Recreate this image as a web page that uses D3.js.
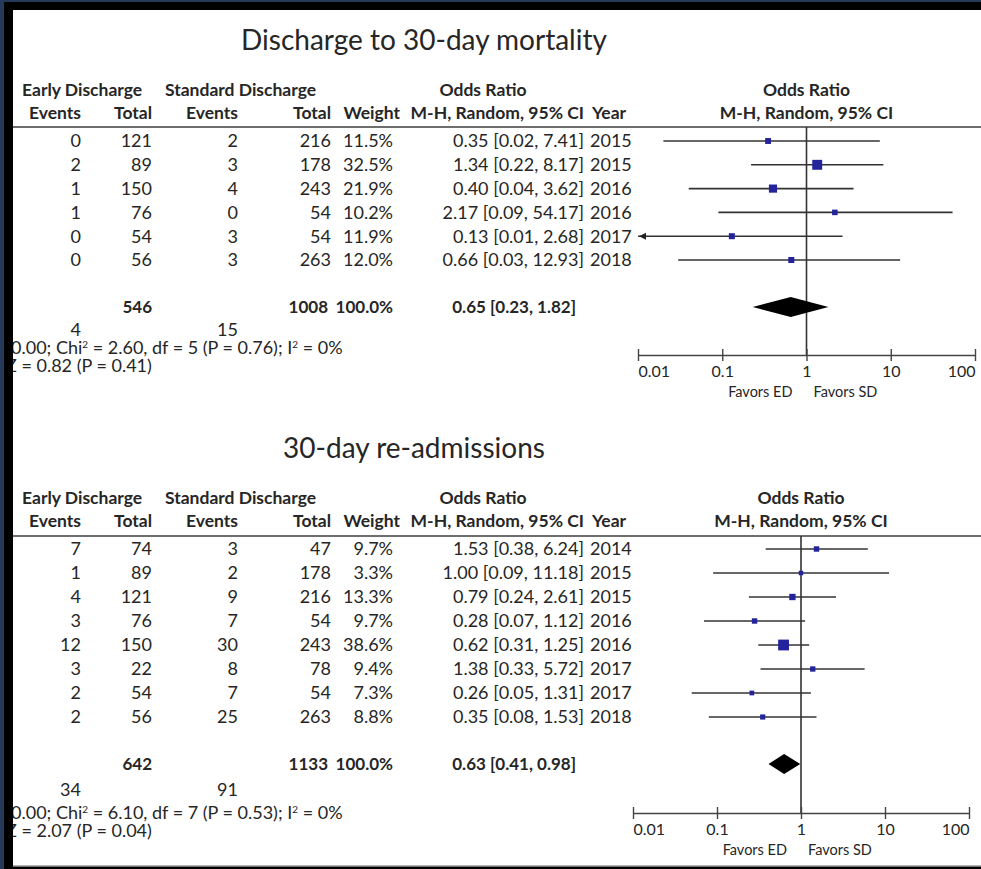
<!DOCTYPE html>
<html>
<head>
<meta charset="utf-8">
<script src="https://cdn.jsdelivr.net/npm/d3@7"></script>
<style>
  body { margin: 0; background: #243a58; }
  svg { display: block; }
  text { font-family: Lato, "Open Sans", sans-serif; fill: #262626; }
  .hdr { font-weight: bold; }
  .tot { font-weight: bold; }
</style>
</head>
<body>
<svg width="981" height="869"></svg>
<script>
// ---- mortality data ----
var mortTitle = "Discharge to 30-day mortality";
var mortEdEvents = [0, 2, 1, 1, 0, 0];
var mortEdTotal = [121, 89, 150, 76, 54, 56];
var mortSdEvents = [2, 3, 4, 0, 3, 3];
var mortSdTotal = [216, 178, 243, 54, 54, 263];
var mortWeight = [11.5, 32.5, 21.9, 10.2, 11.9, 12.0];
var mortOR = [0.35, 1.34, 0.40, 2.17, 0.13, 0.66];
var mortLo = [0.02, 0.22, 0.04, 0.09, 0.01, 0.03];
var mortHi = [7.41, 8.17, 3.62, 54.17, 2.68, 12.93];
var mortYear = [2015, 2015, 2016, 2016, 2017, 2018];
var mortPooled = [0.65, 0.23, 1.82];
var mortTotals = [546, 1008];
var mortEventTotals = [4, 15];
var mortHet = ["0.00", "2.60", "5", "0.76", "0"];
var mortZ = ["0.82", "0.41"];

// ---- readmission data ----
var readTitle = "30-day re-admissions";
var readEdEvents = [7, 1, 4, 3, 12, 3, 2, 2];
var readEdTotal = [74, 89, 121, 76, 150, 22, 54, 56];
var readSdEvents = [3, 2, 9, 7, 30, 8, 7, 25];
var readSdTotal = [47, 178, 216, 54, 243, 78, 54, 263];
var readWeight = [9.7, 3.3, 13.3, 9.7, 38.6, 9.4, 7.3, 8.8];
var readOR = [1.53, 1.00, 0.79, 0.28, 0.62, 1.38, 0.26, 0.35];
var readLo = [0.38, 0.09, 0.24, 0.07, 0.31, 0.33, 0.05, 0.08];
var readHi = [6.24, 11.18, 2.61, 1.12, 1.25, 5.72, 1.31, 1.53];
var readYear = [2014, 2015, 2015, 2016, 2016, 2017, 2017, 2018];
var readPooled = [0.63, 0.41, 0.98];
var readTotals = [642, 1133];
var readEventTotals = [34, 91];
var readHet = ["0.00", "6.10", "7", "0.53", "0"];
var readZ = ["2.07", "0.04"];

// axis ticks
var orTicks = [0.01, 0.1, 1, 10, 100];
var orTickLabels = ["0.01", "0.1", "1", "10", "100"];

var svg = d3.select("svg");
svg.append("rect").attr("width", 981).attr("height", 869).attr("fill", "#fff");

// column right edges (year is left edge)
var col = { e1: 81, t1: 152, e2: 238, t2: 331, w: 393, or: 584, yr: 590 };
var fs = "18px";   // table text
var hs = "17.5px"; // header text

var drawPanel = function(p)
{
  var g = svg.append("g");
  var n = p.or.length;

  g.append("text").attr("x", p.titleX).attr("y", p.titleY)
    .attr("text-anchor", "middle").style("font-size", "28px").text(p.title);

  // header rows
  var h1 = p.headY, h2 = p.headY + 23;
  var hdr = function(x, y, anchor, s) {
    g.append("text").attr("class", "hdr").attr("x", x).attr("y", y)
      .attr("dy", "0.35em").attr("text-anchor", anchor)
      .style("font-size", hs).text(s);
  };
  hdr(22, h1, "start", "Early Discharge");
  hdr(165, h1, "start", "Standard Discharge");
  hdr(483, h1, "middle", "Odds Ratio");
  hdr(col.e1, h2, "end", "Events");
  hdr(col.t1, h2, "end", "Total");
  hdr(col.e2, h2, "end", "Events");
  hdr(col.t2, h2, "end", "Total");
  hdr(400, h2, "end", "Weight");
  hdr(col.or, h2, "end", "M-H, Random, 95% CI");
  hdr(col.yr + 2, h2, "start", "Year");

  var x = d3.scaleLog().domain([0.01, 100]).range(p.xRange);
  var mid = x(1);
  hdr(mid, h1, "middle", "Odds Ratio");
  hdr(mid, h2, "middle", "M-H, Random, 95% CI");

  // rule under header
  g.append("line").attr("x1", 10).attr("x2", 981)
    .attr("y1", p.lineY).attr("y2", p.lineY)
    .attr("stroke", "#6e6e6e").attr("stroke-width", 2.2);

  var y = d3.scaleLinear().domain([0, n - 1]).range([p.rowY0, p.rowY1]);
  var rows = d3.range(n);

  var cell = function(vals, xx, anchor, fmt) {
    g.selectAll(null).data(rows).enter().append("text")
      .attr("x", xx).attr("y", function(i) { return y(i); })
      .attr("dy", "0.35em").attr("text-anchor", anchor)
      .style("font-size", fs)
      .text(function(i) { return fmt ? fmt(vals[i], i) : vals[i]; });
  };
  cell(p.edE, col.e1, "end");
  cell(p.edT, col.t1, "end");
  cell(p.sdE, col.e2, "end");
  cell(p.sdT, col.t2, "end");
  cell(p.w, col.w, "end", function(v) { return v.toFixed(1) + "%"; });
  cell(p.or, col.or, "end", function(v, i) {
    return v.toFixed(2) + " [" + p.lo[i].toFixed(2) + ", " + p.hi[i].toFixed(2) + "]";
  });
  cell(p.year, col.yr, "start");

  // totals
  var tot = function(xx, yy, anchor, s, bold) {
    g.append("text").attr("class", bold ? "tot" : null).attr("x", xx).attr("y", yy)
      .attr("dy", "0.35em").attr("text-anchor", anchor)
      .style("font-size", bold ? "17px" : fs).text(s);
  };
  tot(col.t1, p.totY, "end", p.totals[0], true);
  tot(col.t2 - 3, p.totY, "end", p.totals[1], true);
  tot(col.w, p.totY, "end", "100.0%", true);
  tot(576, p.totY, "end", p.pooled[0].toFixed(2) + " [" + p.pooled[1].toFixed(2) + ", " + p.pooled[2].toFixed(2) + "]", true);
  tot(col.e1, p.evY, "end", p.evTot[0]);
  tot(col.e2, p.evY, "end", p.evTot[1]);

  var het = g.append("text").attr("x", 11).attr("y", p.hetY).attr("dy", "0.35em")
    .style("font-size", fs);
  het.append("tspan").text(p.het[0] + "; Chi");
  het.append("tspan").attr("baseline-shift", "super").style("font-size", "10px").text("2");
  het.append("tspan").text(" = " + p.het[1] + ", df = " + p.het[2] + " (P = " + p.het[3] + "); I");
  het.append("tspan").attr("baseline-shift", "super").style("font-size", "10px").text("2");
  het.append("tspan").text(" = " + p.het[4] + "%");
  g.append("text").attr("x", 6).attr("y", p.zY).attr("dy", "0.35em")
    .style("font-size", fs)
    .text("Z = " + p.z[0] + " (P = " + p.z[1] + ")");

  // forest plot
  g.append("line").attr("x1", mid).attr("x2", mid)
    .attr("y1", p.lineY).attr("y2", p.axisY)
    .attr("stroke", "#333").attr("stroke-width", 1.6);

  var size = d3.scaleSqrt().domain([0, 40]).range([0, 11]);

  g.selectAll(null).data(rows).enter().append("line")
    .attr("x1", function(i) { return x(Math.max(p.lo[i], 0.01)); })
    .attr("x2", function(i) { return x(Math.min(p.hi[i], 100)); })
    .attr("y1", function(i) { return y(i); })
    .attr("y2", function(i) { return y(i); })
    .attr("stroke", "#333").attr("stroke-width", 1.6);

  // arrow heads where the interval runs off the scale
  g.selectAll(null).data(rows.filter(function(i) { return p.lo[i] <= 0.01; }))
    .enter().append("path")
    .attr("d", function(i) {
      var x0 = x(0.01) + 1, yy = y(i);
      return "M" + x0 + "," + yy + "l7,-3.5l0,7z";
    })
    .attr("fill", "#222");

  var side = function(i) { return Math.max(size(p.w[i]), 4.5); };
  g.selectAll(null).data(rows).enter().append("rect")
    .attr("x", function(i) { return x(p.or[i]) - side(i) / 2; })
    .attr("y", function(i) { return y(i) - side(i) / 2; })
    .attr("width", side)
    .attr("height", side)
    .attr("fill", "#23239c");

  // pooled diamond
  var dy = p.totY;
  g.append("path")
    .attr("d", "M" + x(p.pooled[1]) + "," + dy +
               "L" + x(p.pooled[0]) + "," + (dy - 10) +
               "L" + x(p.pooled[2]) + "," + dy +
               "L" + x(p.pooled[0]) + "," + (dy + 10) + "Z")
    .attr("fill", "#000");

  // axis
  var axis = d3.axisBottom(x).tickValues(orTicks)
    .tickFormat(function(d, i) { return orTickLabels[i]; })
    .tickSizeInner(6).tickSizeOuter(0).tickPadding(4);
  var ax = g.append("g").attr("transform", "translate(0," + p.axisY + ")").call(axis);
  ax.select(".domain").attr("stroke", "#444").attr("stroke-width", 1.6);
  ax.selectAll(".tick line").attr("y1", -6).attr("y2", 6)
    .attr("stroke", "#444").attr("stroke-width", 1.4);
  ax.selectAll(".tick text").attr("y", 11).style("font-size", "16px")
    .style("font-family", "Lato, sans-serif").attr("fill", "#3a3a3a")
    .attr("text-anchor", function(d, i) {
      return i === 0 ? "start" : (i === orTicks.length - 1 ? "end" : "middle");
    });

  g.append("text").attr("x", mid - 14).attr("y", p.axisY + 42).attr("text-anchor", "end")
    .style("font-size", "14.5px").text("Favors ED");
  g.append("text").attr("x", mid + 7).attr("y", p.axisY + 42).attr("text-anchor", "start")
    .style("font-size", "14.5px").text("Favors SD");
};

drawPanel({
  title: mortTitle, titleX: 424, titleY: 50,
  headY: 90, lineY: 127, rowY0: 141, rowY1: 260,
  totY: 307, evY: 330, hetY: 348, zY: 366, axisY: 355, xRange: [638, 975],
  edE: mortEdEvents, edT: mortEdTotal, sdE: mortSdEvents, sdT: mortSdTotal,
  w: mortWeight, or: mortOR, lo: mortLo, hi: mortHi, year: mortYear,
  pooled: mortPooled, totals: mortTotals, evTot: mortEventTotals, het: mortHet, z: mortZ
});

drawPanel({
  title: readTitle, titleX: 414, titleY: 458,
  headY: 498, lineY: 536, rowY0: 549, rowY1: 717,
  totY: 764, evY: 790, hetY: 813, zY: 831, axisY: 813, xRange: [633, 969],
  edE: readEdEvents, edT: readEdTotal, sdE: readSdEvents, sdT: readSdTotal,
  w: readWeight, or: readOR, lo: readLo, hi: readHi, year: readYear,
  pooled: readPooled, totals: readTotals, evTot: readEventTotals, het: readHet, z: readZ
});

// dark frame around the picture
var frame = svg.append("g");
frame.append("rect").attr("x", 0).attr("y", 0).attr("width", 981).attr("height", 2).attr("fill", "#243a58");
frame.append("rect").attr("x", 0).attr("y", 0).attr("width", 4).attr("height", 869).attr("fill", "#243a58");
frame.append("rect").attr("x", 4).attr("y", 2).attr("width", 977).attr("height", 8).attr("fill", "#000");
frame.append("rect").attr("x", 4).attr("y", 2).attr("width", 9).attr("height", 867).attr("fill", "#000");
frame.append("rect").attr("x", 4).attr("y", 866).attr("width", 977).attr("height", 3).attr("fill", "#000");
frame.append("line").attr("x1", 13).attr("x2", 981).attr("y1", 866).attr("y2", 866)
  .attr("stroke", "#999").attr("stroke-width", 1.5);
</script>
</body>
</html>
